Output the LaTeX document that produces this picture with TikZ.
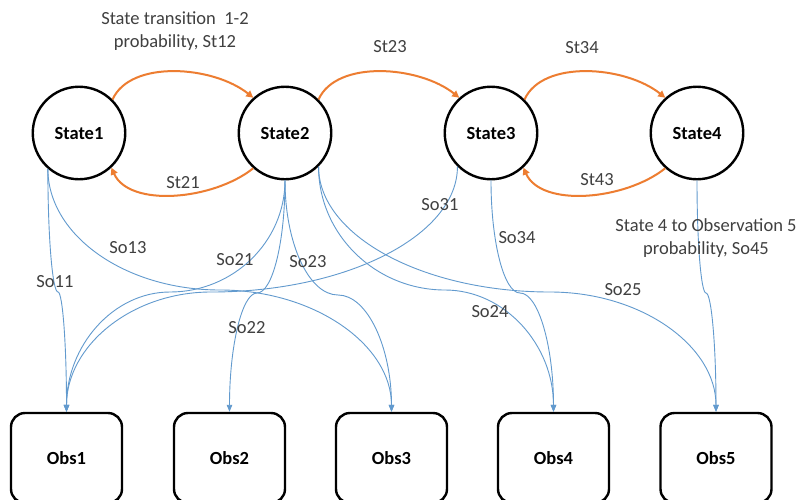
\documentclass[tikz,border=0pt]{standalone}
\usepackage{fontspec}
\setmainfont{Carlito}
\usetikzlibrary{arrows.meta,calc}
\definecolor{tro}{RGB}{237,125,49}
\definecolor{obl}{RGB}{98,154,206}
\definecolor{lbl}{RGB}{64,64,64}
\newcommand\hmmconn[3]{\draw[obsline] (#1) .. controls ($(#1)!0.55!(#1 |- #2)$) and ($(#2)!0.55!(#1 |- #2)$) .. (#2) .. controls ($(#2)!0.55!(#3 |- #2)$) and ($(#3)!0.55!(#3 |- #2)$) .. (#3);}
\begin{document}
\begin{tikzpicture}[x=1pt,y=-1pt,
  state/.style={circle,draw,line width=2.4pt,minimum size=92.5pt,inner sep=0pt,font=\fontsize{18.5}{22}\selectfont\bfseries},
  obsbox/.style={rectangle,rounded corners=14pt,draw,line width=2.4pt,minimum width=111pt,minimum height=90pt,inner sep=0pt,font=\fontsize{18.5}{22}\selectfont\bfseries},
  lab/.style={text=lbl,font=\fontsize{18.5}{23}\selectfont,inner sep=0pt,align=center},
  trans/.style={draw=tro,line width=2pt,-{Triangle[length=7pt,width=7pt]}},
  obsline/.style={draw=obl,line width=0.9pt,-{Triangle[length=7pt,width=5.5pt]}}]
\useasboundingbox (0,0) rectangle (801,499);
\clip (0,0) rectangle (801,499);
\fill[white] (0,0) rectangle (801,499);
% states
\node[state] (s1) at (79,133) {State1};
\node[state] (s2) at (285,133) {State2};
\node[state] (s3) at (491,133) {State3};
\node[state] (s4) at (697,133) {State4};
% observations
\node[obsbox] (o1) at (66.5,458) {Obs1};
\node[obsbox] (o2) at (229.5,458) {Obs2};
\node[obsbox] (o3) at (391.5,458) {Obs3};
\node[obsbox] (o4) at (553.5,458) {Obs4};
\node[obsbox] (o5) at (716,458) {Obs5};
% transitions
\draw[trans] (s1.45) .. controls +(18,-40) and +(-40,-32) .. (s2.132);
\draw[trans] (s2.228) .. controls +(-40,32) and +(18,40) .. (s1.313);
\draw[trans] (s2.45) .. controls +(18,-40) and +(-40,-32) .. (s3.132);
\draw[trans] (s3.45) .. controls +(18,-40) and +(-40,-32) .. (s4.132);
\draw[trans] (s4.228) .. controls +(-40,32) and +(18,40) .. (s3.313);
% mid points of the emission connectors
\coordinate (m11) at (58,292);
\coordinate (m13) at (220,290);
\coordinate (m21) at (170,292);
\coordinate (m22) at (257,293);
\coordinate (m23) at (338,295);
\coordinate (m24) at (445,290);
\coordinate (m25) at (550,292);
\coordinate (m31) at (211,292);
\coordinate (m34) at (520,293);
\coordinate (m45) at (706,293);
\hmmconn{s1.229}{m11}{o1.north}
\hmmconn{s1.229}{m13}{o3.north}
\hmmconn{s2.270}{m21}{o1.north}
\hmmconn{s2.270}{m22}{o2.north}
\hmmconn{s2.270}{m23}{o3.north}
\hmmconn{s2.315}{m24}{o4.north}
\hmmconn{s2.315}{m25}{o5.north}
\hmmconn{s3.225}{m31}{o1.north}
\hmmconn{s3.270}{m34}{o4.north}
\hmmconn{s4.270}{m45}{o5.north}
% labels
\node[lab] (l12) at (175,31.5) {State transition\ \ 1-2\\probability, St12};
\node[lab] (l23) at (390,47) {St23};
\node[lab] (l34) at (582,48) {St34};
\node[lab] (l21) at (183,183) {St21};
\node[lab] (l43) at (597,180) {St43};
\node[lab] (l11) at (55,282) {So11};
\node[lab] (l13) at (128,248) {So13};
\node[lab] (l21o) at (235,260) {So21};
\node[lab] (l23o) at (308,262) {So23};
\node[lab] (l22o) at (247,328) {So22};
\node[lab] (l31) at (440,205) {So31};
\node[lab] (l34o) at (517,238) {So34};
\node[lab] (l24) at (490,312) {So24};
\node[lab] (l25) at (623,290) {So25};
\node[lab] (l45) at (706,238.5) {State 4 to Observation 5\\probability, So45};
\end{tikzpicture}
\end{document}
